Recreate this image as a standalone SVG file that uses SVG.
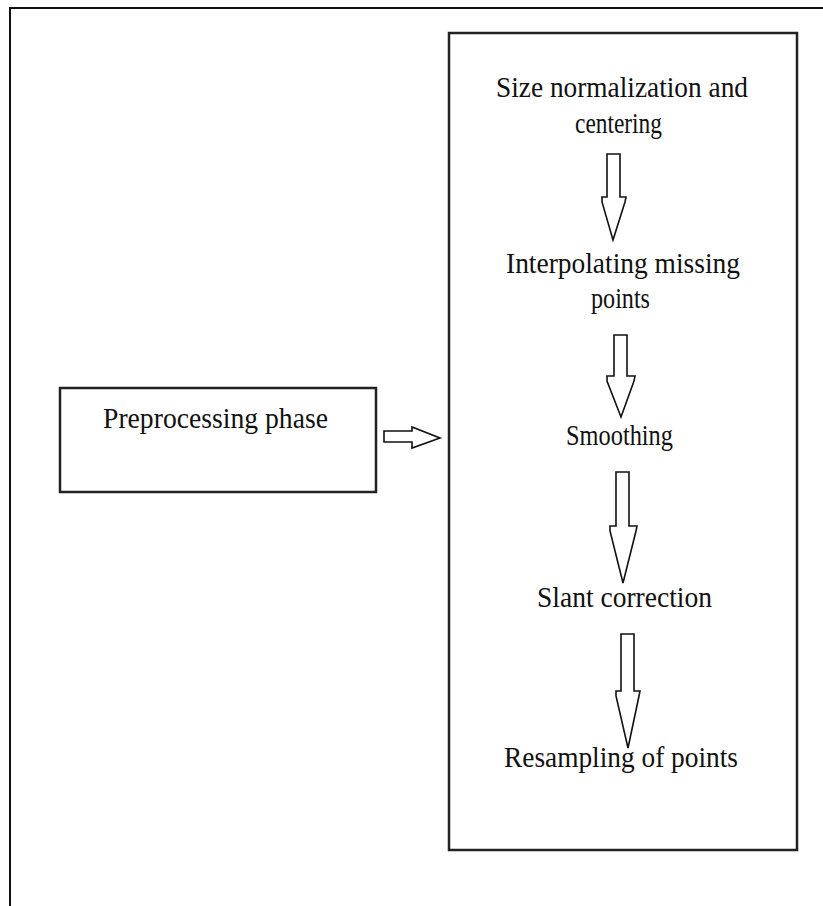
<svg xmlns="http://www.w3.org/2000/svg" width="823" height="906" viewBox="0 0 823 906">
<style>
.frame{fill:none;stroke:#111;stroke-width:2}
.box{fill:#fff;stroke:#222;stroke-width:2.5}
.arr{fill:#fff;stroke:#111;stroke-width:1.6;stroke-linejoin:miter}
.lbl{font-family:"Liberation Serif","Times New Roman",serif;font-size:29px;fill:#111}
</style>
<rect width="823" height="906" fill="#fff"/>
<path class="frame" d="M10,906 V8 H823"/>
<g id="preprocessing">
<rect class="box" x="60" y="388" width="316" height="104"/>
<text class="lbl" x="103" y="428" textLength="225" lengthAdjust="spacingAndGlyphs">Preprocessing phase</text>
</g>
<g id="steps">
<rect class="box" x="449" y="33" width="348" height="817"/>
</g>
<g id="size-normalization">
<text class="lbl" x="496" y="97" textLength="252" lengthAdjust="spacingAndGlyphs">Size normalization and</text>
<text class="lbl" x="575" y="133" textLength="87" lengthAdjust="spacingAndGlyphs">centering</text>
</g>
<g id="interpolating">
<text class="lbl" x="506" y="273" textLength="234" lengthAdjust="spacingAndGlyphs">Interpolating missing</text>
<text class="lbl" x="591" y="308" textLength="59" lengthAdjust="spacingAndGlyphs">points</text>
</g>
<g id="smoothing">
<text class="lbl" x="566" y="445" textLength="107" lengthAdjust="spacingAndGlyphs">Smoothing</text>
</g>
<g id="slant">
<text class="lbl" x="537" y="607" textLength="175" lengthAdjust="spacingAndGlyphs">Slant correction</text>
</g>
<g id="resampling">
<text class="lbl" x="504" y="767" textLength="234" lengthAdjust="spacingAndGlyphs">Resampling of points</text>
</g>
<g id="connectors">
<polygon class="arr" points="384,431 412,431 412,427 440,438 412,448 412,442 384,442"/>
<polygon class="arr" points="607,154 620,154 620,197 626,197 625,202 613,240 602,202 602,197 607,197"/>
<polygon class="arr" points="614,335 627,335 627,376 635,376 634,381 621,417 607,381 607,376 614,376"/>
<polygon class="arr" points="616,472 629,472 629,526 637,526 636,531 623,583 610,531 610,526 616,526"/>
<polygon class="arr" points="621,634 634,634 634,691 640,691 639,696 628,748 616,696 616,691 621,691"/>
</g>
</svg>
